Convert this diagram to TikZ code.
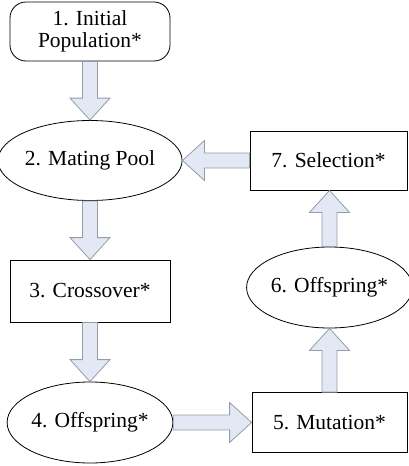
\documentclass[tikz,border=0pt]{standalone}
\usepackage{fontspec}
\setmainfont{Liberation Serif}
\usetikzlibrary{shapes.geometric,calc}
\definecolor{arrfill}{RGB}{226,233,244}
\definecolor{arrline}{RGB}{150,156,166}
\newcommand\fatarr[2]{%
  \coordinate (fa-s) at (#1);
  \coordinate (fa-t) at (#2);
  \coordinate (fa-h) at ($(fa-t)!22pt!(fa-s)$);
  \draw[fatarrow] ($(fa-s)!7.5pt!90:(fa-t)$) -- ($(fa-h)!7.5pt!-90:(fa-s)$)
    -- ($(fa-h)!20pt!-90:(fa-s)$) -- (fa-t) -- ($(fa-h)!20pt!90:(fa-s)$)
    -- ($(fa-h)!7.5pt!90:(fa-s)$) -- ($(fa-s)!7.5pt!-90:(fa-t)$) -- cycle;
}
\tikzset{
  fatarrow/.style={fill=arrfill, draw=arrline, line width=0.8pt, line join=miter},
  lbl/.style={font=\fontsize{21.5}{22}\selectfont, text=black, align=center, inner sep=0pt},
  boxnode/.style={lbl, draw=black, line width=0.8pt, rectangle},
  ovalnode/.style={lbl, draw=black, line width=0.8pt, ellipse},
}
\begin{document}
\begin{tikzpicture}[x=1pt,y=-1pt]
\useasboundingbox (0,0) rectangle (408,466);
\node[boxnode, rounded corners=16pt, minimum width=160pt, minimum height=59pt] (n1) at (90,31.5) {1. Initial\\Population*};
\node[ovalnode, minimum width=162pt, minimum height=80pt] (n2) at (90,160.5) {2. Mating Pool};
\node[boxnode, minimum width=160pt, minimum height=62pt] (n3) at (90,291) {3. Crossover*};
\node[ovalnode, minimum width=162pt, minimum height=81pt] (n4) at (90,422.5) {4. Offspring*};
\node[boxnode, minimum width=155pt, minimum height=60pt] (n5) at (329.5,422.5) {5. Mutation*};
\node[ovalnode, minimum width=157pt, minimum height=81pt] (n6) at (329.5,287.5) {6. Offspring*};
\node[boxnode, minimum width=157pt, minimum height=59pt] (n7) at (328.5,160.5) {7. Selection*};
\fatarr{n1.south}{n2.north}
\fatarr{n2.south}{n3.north}
\fatarr{n3.south}{n4.north}
\fatarr{n4.east}{n5.west}
\fatarr{n5.north}{n6.south}
\fatarr{n6.north}{n6.north |- n7.south}
\fatarr{n7.west}{n2.east}
\end{tikzpicture}
\end{document}
